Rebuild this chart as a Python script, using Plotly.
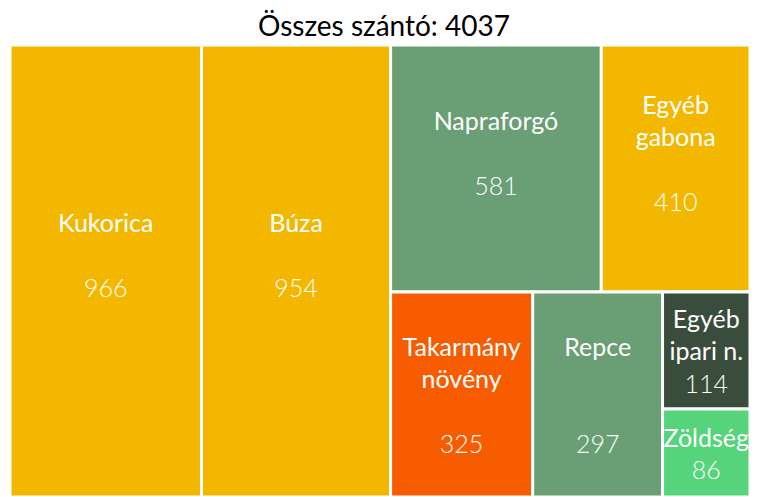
import plotly.graph_objects as go

title_text = "Összes szántó: 4037"

# leaf categories and values
categories = ["Kukorica", "Búza", "Napraforgó", "Egyéb gabona", "Takarmány növény",
              "Repce", "Egyéb ipari n.", "Zöldség"]
display_labels = ["Kukorica", "Búza", "Napraforgó", "Egyéb<br>gabona", "Takarmány<br>növény",
                  "Repce", "Egyéb<br>ipari n.", "Zöldség"]
values = [966, 954, 581, 410, 325, 297, 114, 86]
colors = ["#F4B700", "#F4B700", "#6A9E75", "#F4B700", "#F85C00",
          "#6A9E75", "#3A4C3C", "#55D47B"]

# grouping used to reproduce the tile arrangement
leaf_parents = ["", "", "top", "top", "bottom", "bottom", "small", "small"]
group_ids = ["right", "top", "bottom", "small"]
group_parents = ["", "right", "right", "bottom"]

V = "<span style='font-weight:300'>%{value}</span>"
t_up = "%{label}<br><br>" + V + "<br> "
t_mid = "%{label}<br><br>" + V
t_wide = "%{label}<br><br><br>" + V
t_small = "%{label}<br>" + V
leaf_templates = [t_up, t_up, t_up, t_up, t_mid, t_wide, t_small, t_small]

ids = ["Kukorica", "Búza", "right", "top", "Napraforgó", "Egyéb gabona", "bottom",
       "Takarmány növény", "Repce", "small", "Egyéb ipari n.", "Zöldség"]
lab_map = dict(zip(categories, display_labels))
val_map = dict(zip(categories, values))
col_map = dict(zip(categories, colors))
tpl_map = dict(zip(categories, leaf_templates))
par_map = dict(zip(categories, leaf_parents))
par_map.update(dict(zip(group_ids, group_parents)))

fig = go.Figure(go.Treemap(
    ids=ids,
    labels=[lab_map.get(i, "") for i in ids],
    parents=[par_map[i] for i in ids],
    values=[val_map.get(i, 0) for i in ids],
    branchvalues="remainder",
    marker=dict(colors=[col_map.get(i, "white") for i in ids],
                line=dict(color="white", width=3),
                pad=dict(t=0, l=0, r=0, b=0)),
    texttemplate=[tpl_map.get(i, "") for i in ids],
    textposition="middle center",
    textfont=dict(family="Lato", size=25, color="white"),
    sort=False,
    tiling=dict(packing="slice-dice", pad=0),
    pathbar=dict(visible=False),
    hoverinfo="label+value",
))

fig.update_layout(
    width=752, height=489,
    margin=dict(l=2, r=10, t=37, b=0),
    paper_bgcolor="white",
    uniformtext=dict(minsize=25, mode="show"),
    title=dict(text=title_text, x=0.5, xanchor="center", y=0.982, yanchor="top",
               font=dict(family="Lato", size=28, color="black")),
)

fig.write_html("out.html")
